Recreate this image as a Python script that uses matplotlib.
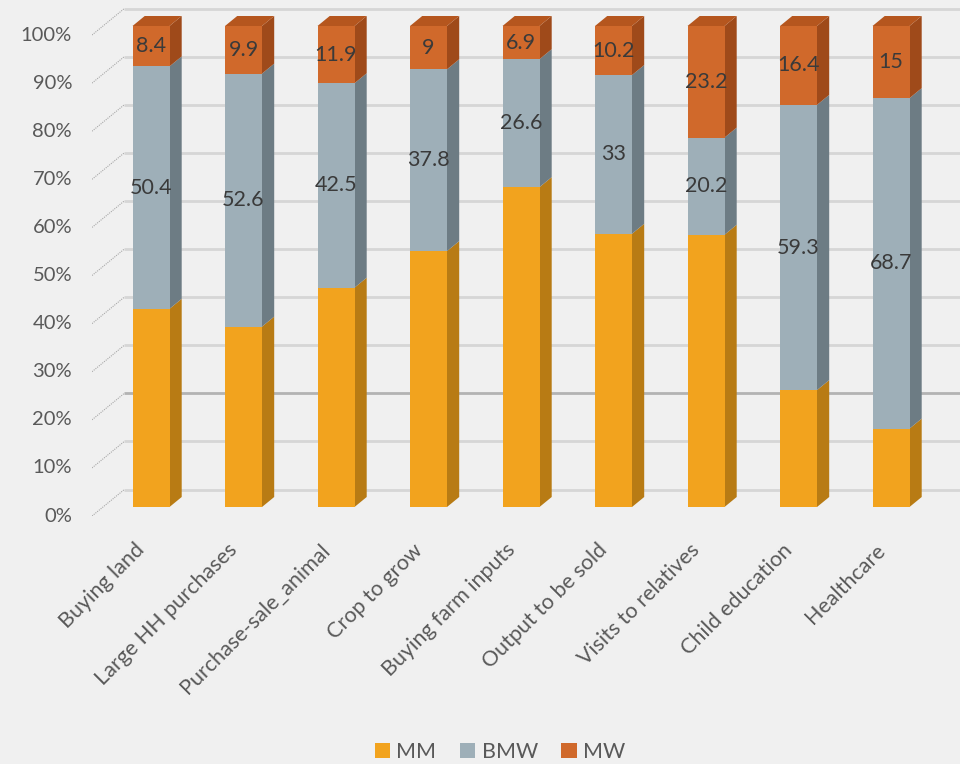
import matplotlib
matplotlib.use("Agg")
import matplotlib.pyplot as plt
from matplotlib.patches import Polygon, Patch

plt.rcParams['font.family'] = ['Lato', 'DejaVu Sans']

categories = ["Buying land", "Large HH purchases", "Purchase-sale_animal",
              "Crop to grow", "Buying farm inputs", "Output to be sold",
              "Visits to relatives", "Child education", "Healthcare"]
mw = [8.4, 9.9, 11.9, 9, 6.9, 10.2, 23.2, 16.4, 15]
bmw = [50.4, 52.6, 42.5, 37.8, 26.6, 33, 20.2, 59.3, 68.7]
mm = [round(100 - a - b, 1) for a, b in zip(mw, bmw)]
yticks = [0, 10, 20, 30, 40, 50, 60, 70, 80, 90, 100]
series_names = ["MM", "BMW", "MW"]

BG = "#f0f0f0"
front_cols = ["#f2a31e", "#9eafb8", "#d0692b"]
side_cols = ["#b87b14", "#6d7c84", "#9f4a1a"]
top_col = "#b5561e"
text_col = "#595959"
label_col = "#3a3a3a"

W, H = 960, 764
fig = plt.figure(figsize=(W / 100, H / 100), dpi=100, facecolor=BG)

# pixel scale of the plot
px_x = 92.5          # pixels per category
px_y = 4.81          # pixels per percent
left_px, right_px = 92, 960
y0_px = 507          # baseline of the bar fronts
xmin = -(151 - left_px) / px_x
xmax = xmin + (right_px - left_px) / px_x
ymin = -9 / px_y
ymax = (y0_px - 8) / px_y
ax = fig.add_axes([left_px / W, (H - y0_px - 9) / H,
                   (right_px - left_px) / W, (ymax - ymin) * px_y / H])
ax.set_facecolor(BG)
ax.set_xlim(xmin, xmax)
ax.set_ylim(ymin, ymax)
for s in ax.spines.values():
    s.set_visible(False)
ax.set_xticks([])
ax.set_yticks([])


def depth(t):
    """Offset in data units for a depth of t pixels into the scene."""
    return t * 1.22 / px_x, t / px_y


wall_x = -(151 - 103) / px_x
bx, by = depth(17.5)   # back wall
fx, fy = depth(-9)     # front edge of side wall

# back-wall gridlines and slanted side-wall ticks
for v in yticks:
    lc = "#b3b3b3" if v == 20 else "#d6d6d6"
    ax.plot([wall_x + bx, xmax], [v + by, v + by], color=lc, lw=2.0, zorder=1,
            solid_capstyle="butt")
    ax.plot([wall_x + fx, wall_x + bx], [v + fy, v + by], color="#a8a8a8",
            lw=0.8, ls=(0, (1, 1)), zorder=1)
    ax.text(wall_x + fx - 20 / px_x, v + fy, f"{v}%", ha="right", va="center",
            fontsize=14.5, color=text_col)

# stacked bars with side and top faces
width = 0.40
ddx, ddy = depth(10)
x = list(range(len(categories)))
bottoms = [0.0] * len(x)
for k, vals in enumerate([mm, bmw, mw]):
    ax.bar(x, vals, width=width, bottom=bottoms, color=front_cols[k],
           edgecolor="none", zorder=3)
    for i, v in enumerate(vals):
        b = bottoms[i]
        xr = x[i] + width / 2
        ax.add_patch(Polygon([(xr, b), (xr + ddx, b + ddy),
                              (xr + ddx, b + v + ddy), (xr, b + v)],
                             closed=True, facecolor=side_cols[k],
                             edgecolor="none", zorder=2.5))
        if k == 2:
            t = b + v
            xl = x[i] - width / 2
            ax.add_patch(Polygon([(xl, t), (xr, t), (xr + ddx, t + ddy),
                                  (xl + ddx, t + ddy)], closed=True,
                                 facecolor=top_col, edgecolor="none",
                                 zorder=2.5))
        if k > 0:
            ax.text(x[i], b + v / 2, f"{v:g}", ha="center", va="center",
                    fontsize=15.5, color=label_col, zorder=5)
    bottoms = [bb + vv for bb, vv in zip(bottoms, vals)]

# rotated category labels
for i, c in enumerate(categories):
    ax.text(x[i] - 0.1, -40 / px_y, c, rotation=45, rotation_mode="anchor",
            ha="right", va="center", fontsize=15.5, color=text_col,
            clip_on=False)

handles = [Patch(facecolor=front_cols[k], edgecolor="none")
           for k in range(3)]
fig.legend(handles, series_names, loc="center",
           bbox_to_anchor=(500 / W, 1 - 752 / H), ncol=3, frameon=False,
           fontsize=15.5, labelcolor=text_col, handlelength=0.7,
           handleheight=0.7, handletextpad=0.3, columnspacing=1.1)

fig.savefig("out.png", dpi=100, facecolor=BG)
